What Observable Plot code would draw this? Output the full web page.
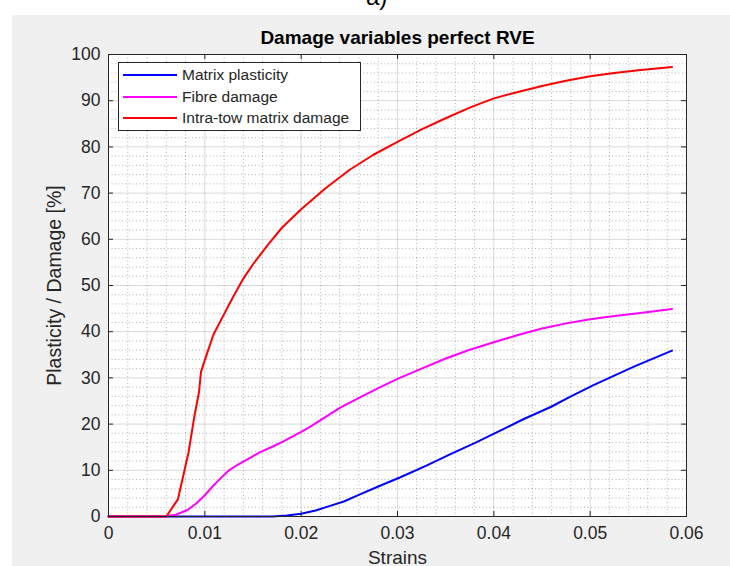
<!DOCTYPE html>
<html><head><meta charset="utf-8">
<script src="https://cdn.jsdelivr.net/npm/d3@7"></script>
<script src="https://cdn.jsdelivr.net/npm/@observablehq/plot@0.6"></script>
<style>
body{margin:0;background:#fff;}
#wrap{position:relative;width:730px;height:566px;overflow:hidden;font-family:"Liberation Sans",Arial,sans-serif;}
#fig{position:absolute;left:12px;top:15px;right:0;bottom:0;background:#f0f0f0;}
#tag{position:absolute;left:366px;top:-17px;font-size:24px;color:#000;line-height:28px;}
#chart{position:absolute;left:0;top:0;}
#legend{position:absolute;left:118px;top:62px;width:241px;height:67px;background:#fff;border:1px solid #262626;}
.row{position:absolute;left:4px;height:20px;display:flex;align-items:center;font-size:15.5px;color:#262626;white-space:nowrap;}
.sw{width:54px;height:2px;margin-right:5px;}
</style></head>
<body>
<div id="wrap">
  <div id="fig"></div>
  <div id="tag">a)</div>
  <div id="chart"></div>
  <div id="legend"></div>
</div>
<script>
const titleText = "Damage variables perfect RVE";
const xLabel = "Strains";
const yLabel = "Plasticity / Damage [%]";

const xTicks = [0, 0.01, 0.02, 0.03, 0.04, 0.05, 0.06];
const xTickLabels = ["0", "0.01", "0.02", "0.03", "0.04", "0.05", "0.06"];
const yTicks = [0, 10, 20, 30, 40, 50, 60, 70, 80, 90, 100];

const seriesNames = ["Matrix plasticity", "Fibre damage", "Intra-tow matrix damage"];
const seriesColors = ["#0000ff", "#ff00ff", "#ff0000"];

// Matrix plasticity (blue)
const strainMatrix = [0, 0.017, 0.0185, 0.020, 0.0215, 0.023, 0.0245, 0.0258, 0.028, 0.0303, 0.033, 0.0355, 0.038, 0.0404, 0.043, 0.0459, 0.048, 0.0504, 0.0525, 0.0546, 0.0585];
const valueMatrix  = [0, 0, 0.2, 0.6, 1.3, 2.3, 3.3, 4.5, 6.5, 8.5, 11, 13.5, 15.9, 18.3, 21, 23.7, 26, 28.5, 30.5, 32.5, 35.9];

// Fibre damage (magenta)
const strainFibre = [0, 0.0058, 0.007, 0.0082, 0.0091, 0.0100, 0.0108, 0.0116, 0.0125, 0.0134, 0.0146, 0.0158, 0.0170, 0.0182, 0.0200, 0.0210, 0.0225, 0.0241, 0.026, 0.028, 0.030, 0.0325, 0.035, 0.0375, 0.040, 0.0425, 0.045, 0.0475, 0.050, 0.0525, 0.055, 0.0585];
const valueFibre  = [0, 0, 0.4, 1.4, 2.8, 4.6, 6.5, 8.2, 10, 11.2, 12.6, 14, 15.1, 16.3, 18.3, 19.5, 21.5, 23.6, 25.7, 27.8, 29.8, 32, 34.2, 36.1, 37.7, 39.3, 40.7, 41.8, 42.7, 43.4, 44.0, 44.9];

// Intra-tow matrix damage (red)
const strainIntra = [0, 0.006, 0.0072, 0.0083, 0.0089, 0.0094, 0.0096, 0.0101, 0.0109, 0.012, 0.013, 0.014, 0.015, 0.0165, 0.018, 0.020, 0.0225, 0.025, 0.0275, 0.030, 0.0325, 0.035, 0.0375, 0.040, 0.0425, 0.045, 0.0475, 0.050, 0.0525, 0.055, 0.0585];
const valueIntra  = [0, 0, 3.7, 13.8, 21.5, 27, 31.3, 34.5, 39.4, 43.8, 47.8, 51.5, 54.6, 58.7, 62.5, 66.5, 71, 75, 78.3, 81.1, 83.8, 86.2, 88.5, 90.5, 91.9, 93.2, 94.3, 95.3, 96, 96.6, 97.3];

const toRows = (xs, ys) => xs.map((x, i) => ({x, y: ys[i]}));
const series = [toRows(strainMatrix, valueMatrix), toRows(strainFibre, valueFibre), toRows(strainIntra, valueIntra)];

const xMinor = d3.range(0, 0.0601, 0.002).filter(v => Math.abs(Math.round(v / 0.01) * 0.01 - v) > 1e-9);
const yMinor = d3.range(0, 100.1, 2).filter(v => v % 10 !== 0);

const W = 730, H = 566, ML = 108, MR = 44, MT = 54, MB = 50;
const innerW = W - ML - MR, innerH = H - MT - MB, TL = 5;
const ink = "#262626";

const plot = Plot.plot({
  width: W, height: H,
  marginLeft: ML, marginRight: MR, marginTop: MT, marginBottom: MB,
  style: {background: "transparent", fontFamily: "Liberation Sans, Arial, sans-serif", fontSize: "17px", color: ink, overflow: "visible"},
  x: {domain: [0, 0.06]},
  y: {domain: [0, 100]},
  marks: [
    Plot.frame({fill: "white", stroke: null}),
    Plot.gridX(xMinor, {stroke: "#000", strokeOpacity: 0.3, strokeDasharray: "1,2.5"}),
    Plot.gridY(yMinor, {stroke: "#000", strokeOpacity: 0.3, strokeDasharray: "1,2.5"}),
    Plot.gridX(xTicks, {stroke: "#000", strokeOpacity: 0.15}),
    Plot.gridY(yTicks, {stroke: "#000", strokeOpacity: 0.15}),
    Plot.axisX(xTicks, {tickSize: 0, tickPadding: 10, tickFormat: d => xTickLabels[xTicks.indexOf(d)], label: null, fontSize: 17.5, fill: ink}),
    Plot.axisY(yTicks, {tickSize: 0, tickPadding: 8, label: null, fontSize: 17.5, fill: ink}),
    Plot.tickX(xTicks, {x: d => d, stroke: ink, insetTop: innerH - TL}),
    Plot.tickX(xTicks, {x: d => d, stroke: ink, insetBottom: innerH - TL}),
    Plot.tickY(yTicks, {y: d => d, stroke: ink, insetRight: innerW - TL}),
    Plot.tickY(yTicks, {y: d => d, stroke: ink, insetLeft: innerW - TL}),
    ...series.map((rows, i) => Plot.line(rows, {x: "x", y: "y", stroke: seriesColors[i], strokeWidth: 2})),
    Plot.frame({stroke: ink, strokeWidth: 1}),
    Plot.text([titleText], {frameAnchor: "top", dy: -17, fontWeight: "bold", fontSize: 19, fill: "#000", lineAnchor: "middle"}),
    Plot.text([yLabel], {frameAnchor: "left", dx: -54, rotate: -90, fontSize: 19.5, fill: ink, textAnchor: "middle", lineAnchor: "middle"}),
    Plot.text([xLabel], {frameAnchor: "bottom", dy: 41, fontSize: 19, fill: ink, textAnchor: "middle", lineAnchor: "middle"})
  ]
});
document.getElementById("chart").appendChild(plot);

const legend = document.getElementById("legend");
const rowTops = [2, 24, 45];
seriesNames.forEach((name, i) => {
  const row = document.createElement("div");
  row.className = "row";
  row.style.top = rowTops[i] + "px";
  const sw = document.createElement("div");
  sw.className = "sw";
  sw.style.background = seriesColors[i];
  const t = document.createElement("span");
  t.textContent = name;
  row.appendChild(sw);
  row.appendChild(t);
  legend.appendChild(row);
});
</script>
</body></html>
